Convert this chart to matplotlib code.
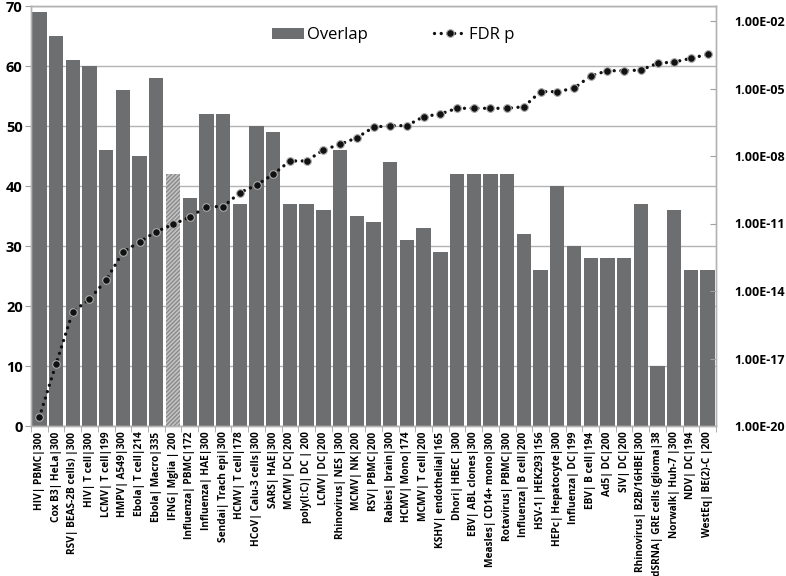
import matplotlib
matplotlib.use("Agg")
import matplotlib.pyplot as plt
from matplotlib.ticker import FixedLocator, FuncFormatter, NullFormatter
import numpy as np

categories = [
    "HIV| PBMC|300", "Cox B3| HeLa|300", "RSV| BEAS-2B cells) |300", "HIV| T cell|300",
    "LCMV| T cell|199", "HMPV| A549|300", "Ebola| T cell|214", "Ebola| Macro|335",
    "IFNG| Mglia | 200", "Influenza| PBMC|172", "Influenza| HAE|300", "Sendai| Trach epi|300",
    "HCMV| T cell|178", "HCoV| Calu-3 cells|300", "SARS| HAE|300", "MCMV| DC|200",
    "poly(I:C)| DC | 200", "LCMV| DC|200", "Rhinovirus| NES |300", "MCMV| NK|200",
    "RSV| PBMC|200", "Rabies| brain|300", "HCMV| Mono|174", "MCMV| T cell|200",
    "KSHV| endothelial|165", "Dhori| HBEC |300", "EBV| ABL clones|300", "Measles| CD14+ mono|300",
    "Rotavirus| PBMC|300", "Influenza| B cell|200", "HSV-1| HEK293|156", "HEPc| Hepatocyte|300",
    "Influenza| DC|199", "EBV| B cell|194", "Ad5| DC|200", "SIV| DC|200",
    "Rhinovirus| B2B/16HBE|300", "dSRNA| GRE cells (glioma|38", "Norwalk| Huh-7 |300",
    "NDV| DC|194", "WestEq| BE(2)-C |200",
]
overlap = [69, 65, 61, 60, 46, 56, 45, 58, 42, 38, 52, 52, 37, 50, 49, 37, 37, 36, 46, 35,
           34, 44, 31, 33, 29, 42, 42, 42, 42, 32, 26, 40, 30, 28, 28, 28, 37, 10, 36, 26, 26]
fdr_log10 = [-19.61, -17.24, -14.92, -14.37, -13.51, -12.27, -11.82, -11.36, -11.04, -10.72,
             -10.25, -10.25, -9.63, -9.29, -8.81, -8.22, -8.22, -7.73, -7.48, -7.19,
             -6.72, -6.65, -6.65, -6.25, -6.13, -5.88, -5.88, -5.88, -5.88, -5.81,
             -5.14, -5.14, -4.99, -4.44, -4.21, -4.21, -4.18, -3.88, -3.82, -3.66, -3.48]
fdr_p = [10.0 ** v for v in fdr_log10]
highlight = "IFNG| Mglia | 200"

plt.rcParams['font.family'] = ['Open Sans', 'DejaVu Sans']

fig = plt.figure(figsize=(7.86, 5.76), dpi=100)
ax = fig.add_axes([31/786, 1-426/576, (716-31)/786, 420/576])
x = np.arange(len(categories))

bar_color = '#6d6e70'
bars = ax.bar(x, overlap, width=0.86, color=bar_color, zorder=2, label='Overlap')
for b, c in zip(bars, categories):
    if c == highlight:
        b.set_facecolor('#c4c4c4')
        b.set_edgecolor('#8a8a8a')
        b.set_hatch('////////')
        b.set_linewidth(0)

ax.set_xlim(-0.5, len(categories) - 0.5)
ax.set_ylim(0, 70)
ax.set_yticks(range(0, 71, 10))
ax.yaxis.grid(True, color='#b3b3b3', linewidth=1.0, zorder=0)
ax.set_axisbelow(True)
for lbl in ax.get_yticklabels():
    lbl.set_fontweight('bold')
    lbl.set_fontsize(10.5)
ax.tick_params(axis='y', length=4, color='#a0a0a0', pad=2)

ax.set_xticks(x)
ax.set_xticklabels(categories, rotation=90, fontsize=7.3, fontweight='bold', va='top', ha='center')
ax.tick_params(axis='x', which='major', length=0, pad=4)
ax.xaxis.set_minor_locator(FixedLocator(np.arange(-0.5, len(categories), 1)))
ax.tick_params(axis='x', which='minor', length=4, color='#a0a0a0')

for s in ax.spines.values():
    s.set_color('#b3b3b3')
    s.set_linewidth(1.0)

ax2 = ax.twinx()
ax2.set_yscale('log')
ax2.set_ylim(1e-20, 10 ** (-20 + 420 / 22.5))
ax2.plot(x, fdr_p, color='#111111', linestyle=(0, (0.01, 2.0)), linewidth=2.4,
         dash_capstyle='round', marker='o', markersize=5.5, markerfacecolor='#111111',
         markeredgecolor='#aaaaaa', markeredgewidth=0.8, zorder=3, label='FDR p')
rticks = [10.0 ** e for e in range(-20, -1, 3)]
ax2.yaxis.set_major_locator(FixedLocator(rticks))
ax2.yaxis.set_minor_locator(FixedLocator([]))
ax2.yaxis.set_major_formatter(FuncFormatter(lambda v, p: "1.00E-%02d" % round(-np.log10(v))))
ax2.yaxis.set_minor_formatter(NullFormatter())
for lbl in ax2.get_yticklabels():
    lbl.set_fontweight('bold')
    lbl.set_fontsize(9.0)
ax2.tick_params(axis='y', length=4, color='#a0a0a0', direction='in', pad=13)
for s in ax2.spines.values():
    s.set_color('#b3b3b3')
    s.set_linewidth(1.0)

h1, l1 = ax.get_legend_handles_labels()
h2, l2 = ax2.get_legend_handles_labels()
leg = ax.legend(h1 + h2, l1 + l2, loc='upper center', bbox_to_anchor=(0.529, 0.985), ncol=2,
                frameon=False, fontsize=12, handlelength=1.9, handleheight=0.7,
                columnspacing=4.0, handletextpad=0.2)

fig.savefig('out.png', dpi=100)
